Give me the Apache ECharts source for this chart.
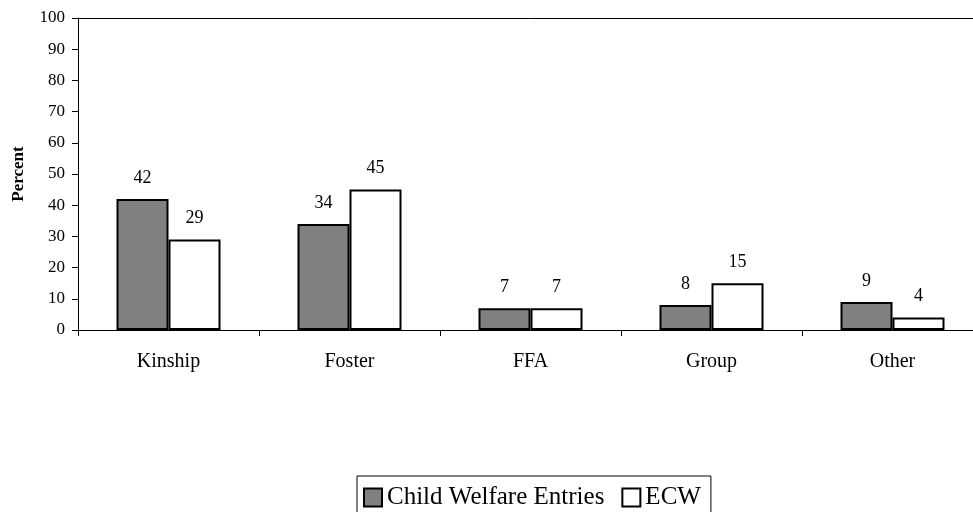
<!DOCTYPE html>
<html>
<head>
<meta charset="utf-8">
<script src="https://cdn.jsdelivr.net/npm/echarts@6/dist/echarts.min.js"></script>
<style>html,body{margin:0;padding:0;background:#fff;overflow:hidden;width:973px;height:512px}#c{width:983px;height:512px}</style>
</head>
<body>
<div id="c"></div>
<script>
const categories = ['Kinship', 'Foster', 'FFA', 'Group', 'Other'];
const childWelfare = [42, 34, 7, 8, 9];
const ecw = [29, 45, 7, 15, 4];
const seriesNames = ['Child Welfare Entries', 'ECW'];
const FONT = '"Liberation Serif", "Times New Roman", serif';

const chart = echarts.init(document.getElementById('c'));
chart.setOption({
  animation: false,
  backgroundColor: '#fff',
  textStyle: { fontFamily: FONT, color: '#000' },
  grid: { left: 78, top: 18, right: 0, bottom: 182, containLabel: false },
  legend: {
    left: 357, top: 476,
    padding: [9, 10, 9, 6],
    itemGap: 17,
    itemWidth: 18, itemHeight: 18,
    icon: 'rect',
    borderColor: '#000', borderWidth: 1,
    textStyle: { fontFamily: FONT, fontSize: 25, color: '#000' },
    data: seriesNames
  },
  xAxis: {
    type: 'category',
    data: categories,
    axisLine: { lineStyle: { color: '#000', width: 1 } },
    axisTick: { show: true, length: 6, inside: false, lineStyle: { color: '#000' } },
    axisLabel: { fontFamily: FONT, fontSize: 20, color: '#000', margin: 22 }
  },
  yAxis: {
    type: 'value',
    min: 0, max: 100, interval: 10,
    name: 'Percent',
    nameLocation: 'middle',
    nameGap: 51,
    nameRotate: 90,
    nameTextStyle: { fontFamily: FONT, fontSize: 17, fontWeight: 'bold', color: '#000' },
    axisLine: { show: true, lineStyle: { color: '#000', width: 1 } },
    axisTick: { show: true, length: 6, lineStyle: { color: '#000' } },
    axisLabel: { fontFamily: FONT, fontSize: 17, color: '#000', margin: 13 },
    splitLine: { show: false }
  },
  series: [
    {
      name: seriesNames[0],
      type: 'bar',
      data: childWelfare,
      barWidth: 52,
      barGap: '0%',
      itemStyle: { color: '#808080', borderColor: '#000', borderWidth: 2 },
      label: { show: true, position: 'top', distance: 12, fontFamily: FONT, fontSize: 18, color: '#000' },
      markLine: {
        silent: true, symbol: 'none', label: { show: false },
        lineStyle: { color: '#000', width: 1, type: 'solid' },
        data: [{ yAxis: 100 }]
      }
    },
    {
      name: seriesNames[1],
      type: 'bar',
      data: ecw,
      barWidth: 52,
      barGap: '0%',
      itemStyle: { color: '#fff', borderColor: '#000', borderWidth: 2 },
      label: { show: true, position: 'top', distance: 12, fontFamily: FONT, fontSize: 18, color: '#000' }
    }
  ]
});
</script>
</body>
</html>
